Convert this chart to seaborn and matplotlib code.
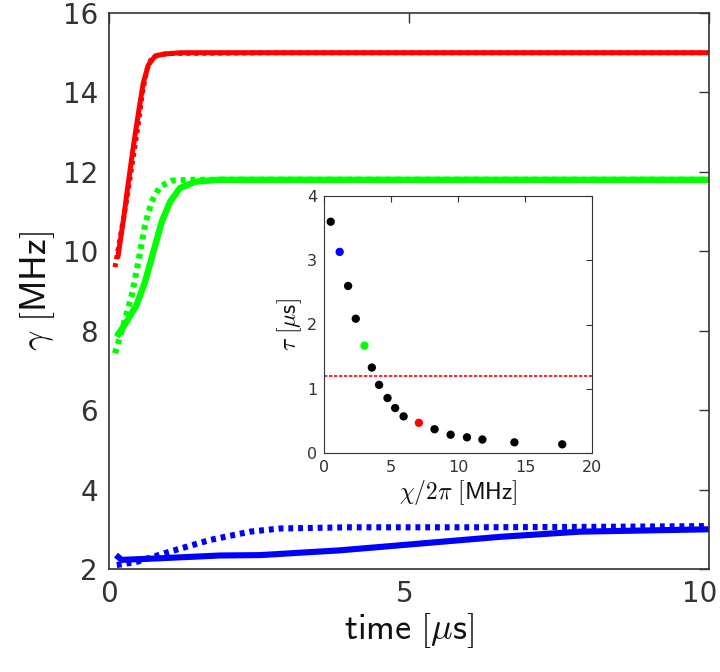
import numpy as np
import pandas as pd
import matplotlib
matplotlib.use("Agg")
import matplotlib.pyplot as plt
import matplotlib.transforms as mtransforms
import seaborn as sns

# ---------------- data ----------------
red_solid_t = [0.145, 0.24, 0.32, 0.405, 0.49, 0.57, 0.655, 0.77, 0.93, 1.2, 3.0, 6.0, 10.0]
red_solid_y = [9.82, 10.79, 11.71, 12.63, 13.48, 14.23, 14.69, 14.92, 14.97, 15.0, 15.0, 15.0, 15.0]
red_dot_t = [0.10, 0.18, 0.295, 0.405, 0.49, 0.555, 0.63, 0.71, 0.82, 1.0, 3.0, 6.0, 10.0]
red_dot_y = [9.60, 10.29, 11.29, 12.38, 13.22, 13.98, 14.57, 14.86, 14.94, 14.98, 15.0, 15.0, 15.0]

green_solid_t = [0.128, 0.295, 0.46, 0.60, 0.74, 0.88, 1.02, 1.18, 1.43, 1.82, 3.0, 6.0, 10.0]
green_solid_y = [7.85, 8.23, 8.65, 9.23, 9.99, 10.75, 11.25, 11.59, 11.75, 11.80, 11.80, 11.80, 11.80]
green_dot_t = [0.10, 0.24, 0.38, 0.49, 0.60, 0.71, 0.85, 1.05, 1.4, 3.0, 6.0, 10.0]
green_dot_y = [7.43, 8.14, 8.90, 9.74, 10.66, 11.25, 11.63, 11.78, 11.80, 11.80, 11.80, 11.80]

blue_solid_t = [0.117, 0.21, 0.85, 1.85, 2.52, 3.85, 5.18, 6.52, 7.85, 10.0]
blue_solid_y = [2.35, 2.23, 2.27, 2.34, 2.35, 2.47, 2.64, 2.81, 2.94, 3.00]
blue_dot_t = [0.13, 0.46, 1.02, 1.68, 2.35, 2.85, 4.0, 6.0, 8.0, 10.0]
blue_dot_y = [2.10, 2.18, 2.44, 2.73, 2.94, 3.02, 3.05, 3.05, 3.06, 3.08]

chi = [0.5, 1.17, 1.8, 2.37, 3.02, 3.57, 4.11, 4.74, 5.31, 5.94, 7.08, 8.25, 9.45, 10.67, 11.82, 14.21, 17.78]
tau = [3.6, 3.13, 2.6, 2.09, 1.67, 1.33, 1.06, 0.856, 0.70, 0.57, 0.47, 0.37, 0.285, 0.244, 0.21, 0.166, 0.135]
pt_color = ["k", "b", "k", "k", "g", "k", "k", "k", "k", "k", "r", "k", "k", "k", "k", "k", "k"]
tau_threshold = 1.2

main_xticks = [0, 5, 10]
main_yticks = [2, 4, 6, 8, 10, 12, 14, 16]
inset_xticks = [0, 5, 10, 15, 20]
inset_yticks = [0, 1, 2, 3, 4]

# ---------------- style ----------------
sns.set_style("white")
plt.rcParams["font.family"] = ["DejaVu Sans"]
plt.rcParams["mathtext.fontset"] = "cm"
axc = "#333333"

fig = plt.figure(figsize=(7.2, 6.72), dpi=100)
ax = fig.add_axes([109 / 720, 1 - 569 / 672, 600 / 720, 556 / 672])

colmap = {"k": "#000000", "b": "#0000ff", "g": "#00ff00", "r": "#ff0000"}
dots = (0, (0.8, 0.8))

series = [
    (red_solid_t, red_solid_y, "#ff0000", "-", 3.6),
    (red_dot_t, red_dot_y, "#ff0000", dots, 3.6),
    (green_solid_t, green_solid_y, "#00ff00", "-", 4.6),
    (green_dot_t, green_dot_y, "#00ff00", dots, 4.4),
    (blue_solid_t, blue_solid_y, "#0000ff", "-", 4.4),
    (blue_dot_t, blue_dot_y, "#0000ff", dots, 4.4),
]
for t, y, c, ls, lw in series:
    df = pd.DataFrame({"t": t, "y": y})
    l = sns.lineplot(data=df, x="t", y="y", ax=ax, color=c, lw=lw,
                     sort=False, estimator=None)
    l.lines[-1].set_linestyle(ls)
    l.lines[-1].set_solid_capstyle("butt")
    l.lines[-1].set_dash_capstyle("butt")

ax.set_xlim(0, 10)
ax.set_ylim(2, 16)
ax.set_xticks(main_xticks)
ax.set_yticks(main_yticks)
ax.tick_params(direction="in", length=7, width=1.0, colors=axc, labelsize=20,
               top=True, right=True, pad=8)
for s in ax.spines.values():
    s.set_color(axc)
    s.set_linewidth(1.2)
ax.set_xlabel(r"$\mathsf{time}\ [\mu\mathsf{s}]$", fontsize=26, color="#111111", labelpad=2)
ax.set_ylabel(r"$\gamma\ [\mathsf{MHz}]$", fontsize=26, color="#111111", labelpad=4)

# shift the last x tick label inward so it stays inside the figure
fig.canvas.draw()
xlabels = ax.get_xticklabels()
shifts = [0, -4, -9]
for lab, dx in zip(xlabels, shifts):
    lab.set_transform(lab.get_transform() +
                      mtransforms.ScaledTranslation(dx / 100, 0, fig.dpi_scale_trans))

# ---------------- inset ----------------
ins = fig.add_axes([324 / 720, 1 - 453 / 672, 268 / 720, 257 / 672])
dfi = pd.DataFrame({"chi": chi, "tau": tau, "c": pt_color})
sns.scatterplot(data=dfi, x="chi", y="tau", hue="c",
                palette=colmap, s=36, edgecolor="none", legend=False, ax=ins, zorder=3)
ins.axhline(tau_threshold, color="#ff0000", lw=1.2, ls=(0, (2, 1)), zorder=2)
ins.set_xlim(0, 20)
ins.set_ylim(0, 4)
ins.set_xticks(inset_xticks)
ins.set_yticks(inset_yticks)
ins.tick_params(direction="in", length=4, width=0.8, colors=axc, labelsize=11.5,
                top=True, right=True, pad=5)
for s in ins.spines.values():
    s.set_color(axc)
    s.set_linewidth(0.8)
ins.set_xlabel(r"$\chi/2\pi\ [\mathsf{MHz}]$", fontsize=17, color="#111111", labelpad=2)
ins.set_ylabel(r"$\tau\ [\mu\mathsf{s}]$", fontsize=17, color="#111111", labelpad=2)

fig.savefig("out.png", dpi=100)
